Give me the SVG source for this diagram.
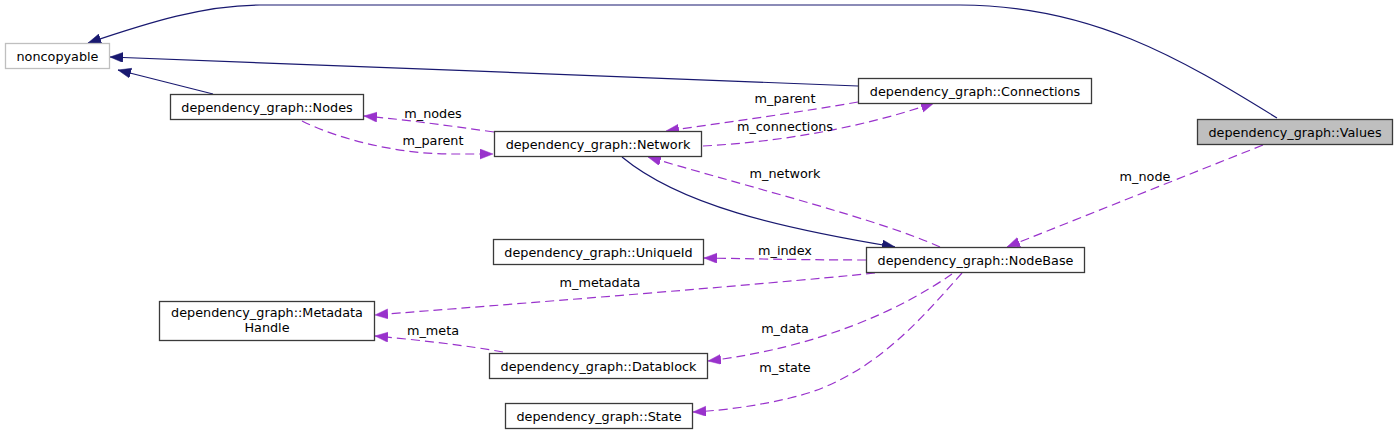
<svg xmlns="http://www.w3.org/2000/svg" width="1399" height="435" viewBox="0 0 1399 435">
<style>
  .box { fill: #ffffff; stroke: #3a3a3a; stroke-width: 1.3; }
  .gray { stroke: #bfbfbf; }
  .root { fill: #bfbfbf; }
  text { font-family: "DejaVu Sans", sans-serif; font-size: 12.8px; fill: #000000; text-anchor: middle; }
  .inh { fill: none; stroke: #191970; stroke-width: 1.2; }
  .use { fill: none; stroke: #9932cc; stroke-width: 1.2; stroke-dasharray: 9,5; }
</style>
<defs>
  <marker id="ab" markerUnits="userSpaceOnUse" markerWidth="15" markerHeight="11" refX="13" refY="5" orient="auto">
    <path d="M0,0 L13,5 L0,10 z" fill="#191970" stroke="#191970" stroke-width="0.5"/>
  </marker>
  <marker id="ap" markerUnits="userSpaceOnUse" markerWidth="15" markerHeight="11" refX="13" refY="5" orient="auto">
    <path d="M0,0 L13,5 L0,10 z" fill="#9932cc" stroke="#9932cc" stroke-width="0.5"/>
  </marker>
</defs>
<rect width="1399" height="435" fill="#ffffff"/>
<g id="connectors">
  <path class="inh" marker-end="url(#ab)" d="M1277,118 C1180,58 1090,5 960,5 L260,5 C205,5 150,22 88,43"/>
  <path class="inh" marker-end="url(#ab)" d="M858,86 C700,80 300,64 110,57"/>
  <path class="inh" marker-end="url(#ab)" d="M213,94 L118,70"/>
  <path class="inh" marker-end="url(#ab)" d="M622,157 C680,205 780,228 895,247"/>
  <path class="use" marker-end="url(#ap)" d="M302,121 C340,140 400,154 450,154 L493,154"/>
  <path class="use" marker-end="url(#ap)" d="M494,132 C450,126 410,120 364,116"/>
  <path class="use" marker-end="url(#ap)" d="M858,102 C800,112 730,122 666,131"/>
  <path class="use" marker-end="url(#ap)" d="M703,146 C780,142 860,128 934,103"/>
  <path class="use" marker-end="url(#ap)" d="M940,247 C880,220 760,190 648,157"/>
  <path class="use" marker-end="url(#ap)" d="M1263,145 C1180,178 1100,210 1007,247"/>
  <path class="use" marker-end="url(#ap)" d="M866,260 C820,260 760,259 704,258"/>
  <path class="use" marker-end="url(#ap)" d="M875,273 C760,285 500,305 375,315"/>
  <path class="use" marker-end="url(#ap)" d="M503,352 C470,346 420,340 375,336"/>
  <path class="use" marker-end="url(#ap)" d="M952,274 C900,310 820,347 708,361"/>
  <path class="use" marker-end="url(#ap)" d="M962,273 C920,320 870,380 790,398 C760,405 730,410 693,412"/>
  <text x="433" y="118">m_nodes</text>
  <text x="433" y="145">m_parent</text>
  <text x="785" y="103">m_parent</text>
  <text x="785" y="131">m_connections</text>
  <text x="785" y="178">m_network</text>
  <text x="1145" y="181">m_node</text>
  <text x="785" y="255">m_index</text>
  <text x="600" y="287">m_metadata</text>
  <text x="433" y="335">m_meta</text>
  <text x="785" y="333">m_data</text>
  <text x="785" y="372">m_state</text>
</g>
<g id="node-noncopyable">
  <rect class="box gray" x="5.5" y="43.5" width="104" height="25"/>
  <text x="57.5" y="60.5">noncopyable</text>
</g>
<g id="node-nodes">
  <rect class="box" x="170.5" y="94.5" width="193" height="25"/>
  <text x="267" y="111.5">dependency_graph::Nodes</text>
</g>
<g id="node-network">
  <rect class="box" x="494.5" y="131.5" width="207" height="25"/>
  <text x="598" y="148.5">dependency_graph::Network</text>
</g>
<g id="node-connections">
  <rect class="box" x="858.5" y="78.5" width="233" height="25"/>
  <text x="975" y="95.5">dependency_graph::Connections</text>
</g>
<g id="node-values">
  <rect class="box root" x="1197.5" y="119.5" width="195" height="25"/>
  <text x="1295" y="136.5">dependency_graph::Values</text>
</g>
<g id="node-uniqueid">
  <rect class="box" x="493.5" y="239.5" width="210" height="25"/>
  <text x="598.5" y="256.5">dependency_graph::UniqueId</text>
</g>
<g id="node-nodebase">
  <rect class="box" x="866.5" y="247.5" width="218" height="25"/>
  <text x="975.5" y="264.5">dependency_graph::NodeBase</text>
</g>
<g id="node-metadatahandle">
  <rect class="box" x="159.5" y="301.5" width="215" height="39"/>
  <text x="267" y="317">dependency_graph::Metadata</text>
  <text x="267" y="332">Handle</text>
</g>
<g id="node-datablock">
  <rect class="box" x="489.5" y="353.5" width="218" height="25"/>
  <text x="598.5" y="370.5">dependency_graph::Datablock</text>
</g>
<g id="node-state">
  <rect class="box" x="505.5" y="403.5" width="187" height="25"/>
  <text x="599" y="420.5">dependency_graph::State</text>
</g>
</svg>
